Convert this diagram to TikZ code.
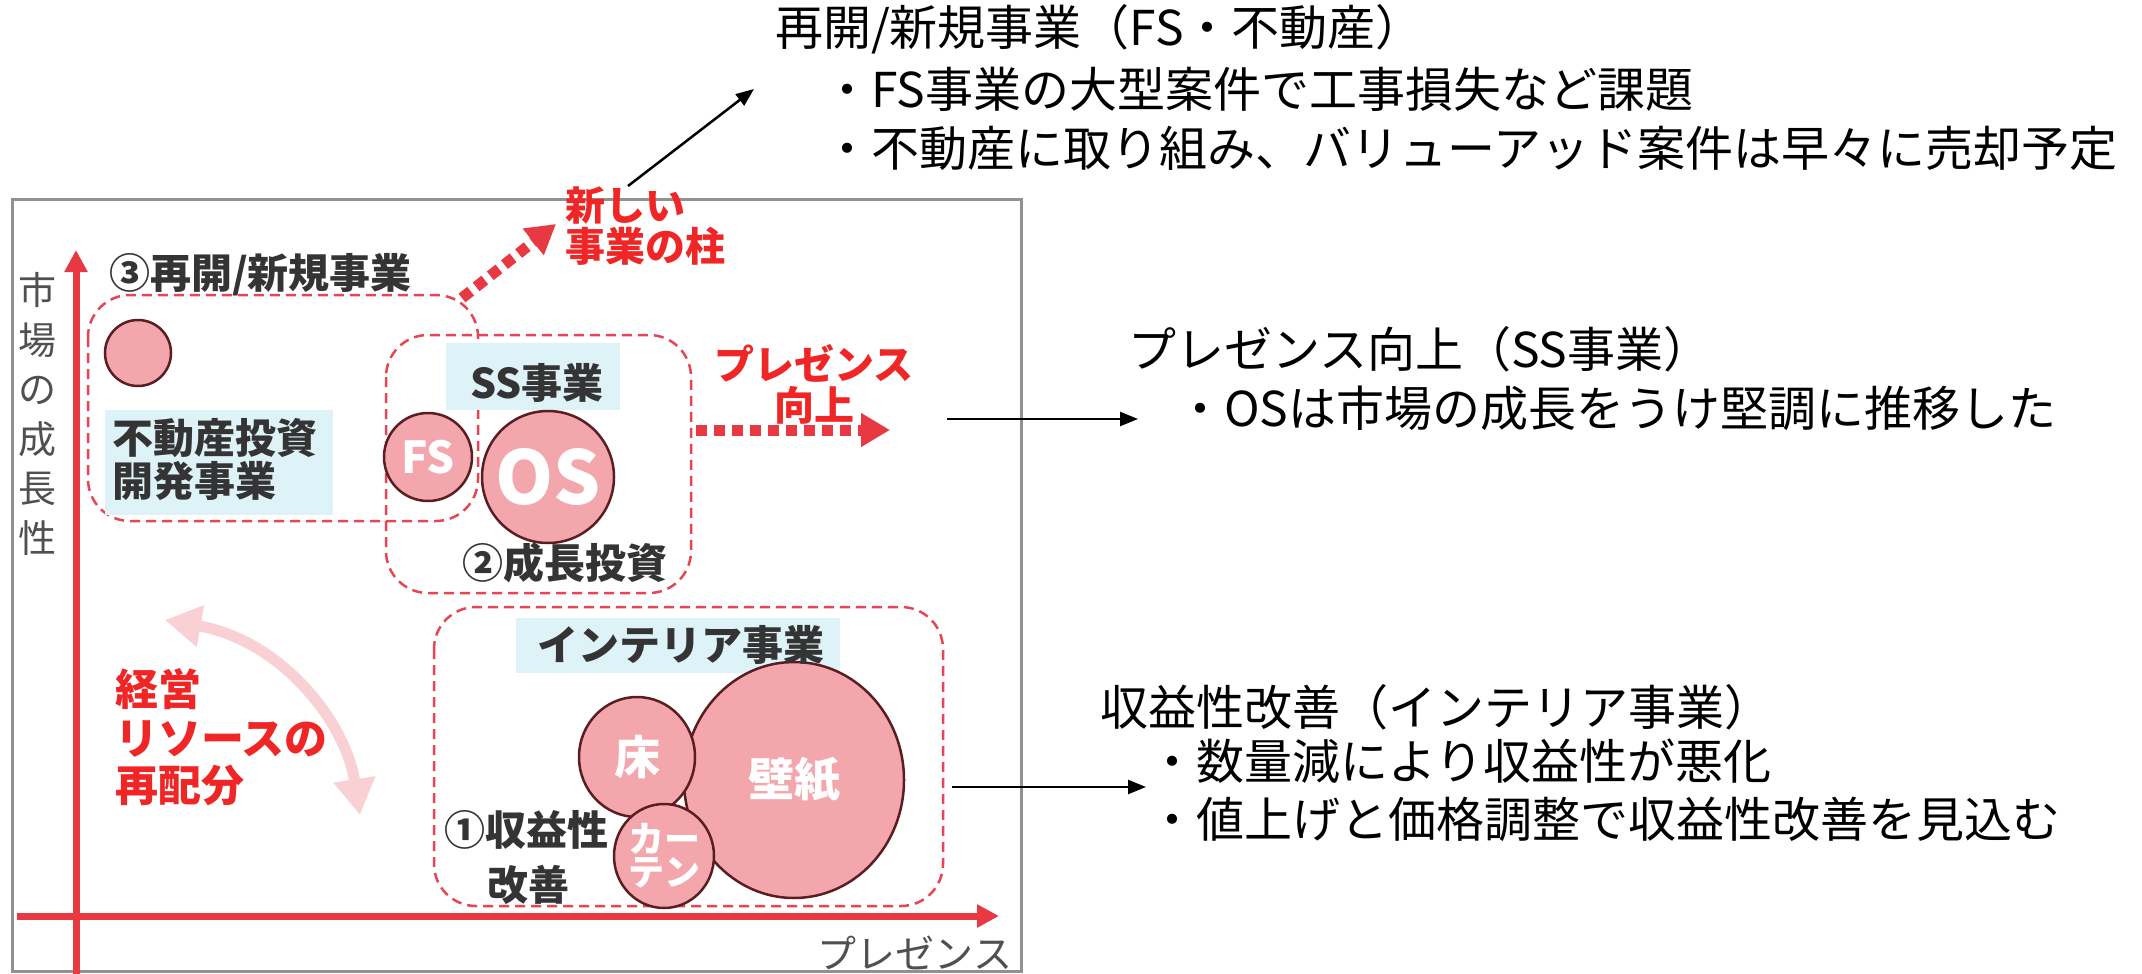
\documentclass[tikz,border=0pt]{standalone}
\usepackage{fontspec}
\newfontfamily\jp{Noto Sans CJK JP}
\usetikzlibrary{arrows.meta,shapes.geometric}
\definecolor{axisred}{RGB}{232,56,66}
\definecolor{txtred}{RGB}{240,38,38}
\definecolor{dashred}{RGB}{230,70,82}
\definecolor{bubfill}{RGB}{244,166,173}
\definecolor{bubline}{RGB}{90,30,34}
\definecolor{lblue}{RGB}{222,243,248}
\definecolor{darktxt}{RGB}{52,52,52}
\definecolor{axgray}{RGB}{80,80,80}
\definecolor{framegray}{RGB}{145,145,145}
\definecolor{softpink}{RGB}{249,208,211}
\begin{document}
\begin{tikzpicture}[x=1pt,y=-1pt,
  every node/.style={inner sep=0pt,outer sep=0pt},
  body/.style={anchor=west,font=\jp\fontsize{48}{48}\selectfont,text=black,text height=42.2pt,text depth=5.8pt},
  lbl/.style={font=\jp\bfseries\fontsize{41}{41}\selectfont,text=darktxt,text height=36pt,text depth=5pt},
  redlbl/.style={font=\jp\bfseries\fontsize{40}{40}\selectfont,text=txtred,text height=35.2pt,text depth=4.8pt},
  redbig/.style={font=\jp\bfseries\fontsize{43}{43}\selectfont,text=txtred,text height=37.8pt,text depth=5.2pt},
  axlbl/.style={font=\jp\fontsize{39}{39}\selectfont,text=axgray},
  bub/.style={ellipse,draw=bubline,line width=2.5pt,fill=bubfill},
  bubtxt/.style={text=white,font=\jp\bfseries\fontsize{46}{46}\selectfont},
  dbox/.style={draw=dashred,line width=2.5pt,dash pattern=on 10pt off 6pt,rounded corners=42pt},
  dotarrow/.style={draw=axisred,line width=11pt,dash pattern=on 11pt off 7pt,-{Triangle[length=29pt,width=32pt]}},
  axis/.style={draw=axisred,line width=7pt,-{Triangle[length=22pt,width=22pt]}},
  conn/.style={draw=black,line width=2.5pt,-{Triangle[length=18pt,width=14pt]}},
  softarrow/.style={draw=softpink,line width=11pt,{Triangle[length=36pt,width=40pt]}-{Triangle[length=36pt,width=40pt]}}
]
\useasboundingbox (0,0) rectangle (2142,974);
\fill[white] (0,0) rectangle (2142,974);

% frame
\draw[framegray,line width=3pt] (12,199) rectangle (1021,971);

% dashed group boxes
\draw[dbox] (88,295) rectangle (478,521);
\draw[dbox] (386,335) rectangle (691,593);
\draw[dbox] (434,607) rectangle (943,906);

% light blue label backgrounds
\fill[lblue] (105,410) rectangle (333,515);
\fill[lblue] (446,343) rectangle (620,410);
\fill[lblue] (516,618) rectangle (840,673);

% bubbles
\node[bub,minimum width=66pt,minimum height=66pt] (re) at (138,353) {};
\node[bub,minimum width=88pt,minimum height=88pt] (fs) at (428,457) {};
\node[bub,minimum width=132pt,minimum height=132pt] (os) at (548,477) {};
\node[bub,minimum width=220pt,minimum height=236pt] (kb) at (794,780) {};
\node[bub,minimum width=116pt,minimum height=120pt] (yuka) at (637,757) {};
\node[bub,minimum width=100pt,minimum height=104pt] (ct) at (664,856) {};
\node[bubtxt,font=\jp\bfseries\fontsize{44}{44}\selectfont] (fst) at (fs) {FS};
\node[bubtxt,font=\jp\bfseries\fontsize{74}{74}\selectfont] (ost) at (os) {OS};
\node[bubtxt] (kbt) at (kb) {壁紙};
\node[bubtxt] (yukat) at (yuka) {床};
\node[bubtxt,font=\jp\bfseries\fontsize{36}{33}\selectfont,align=center] (ctt) at (ct) {カー\\テン};

% dark labels
\node[lbl,anchor=west] (g3) at (109,273) {③再開/新規事業};
\node[lbl,anchor=west] (fd1) at (112,438) {不動産投資};
\node[lbl,anchor=west] (fd2) at (112,481) {開発事業};
\node[lbl] (ss) at (537,383) {SS事業};
\node[lbl,anchor=west] (g2) at (462,563) {②成長投資};
\node[lbl] (int) at (681,645) {インテリア事業};
\node[lbl,anchor=west] (g1a) at (444,830) {①収益性};
\node[lbl,anchor=west] (g1b) at (487,885) {改善};

% red labels
\node[redlbl,anchor=west] (nb1) at (565,205) {新しい};
\node[redlbl,anchor=west] (nb2) at (565,246) {事業の柱};
\node[redlbl] (pr1) at (814,364) {プレゼンス};
\node[redlbl] (pr2) at (814,405) {向上};
\node[redbig,anchor=west] (rs1) at (115,689) {経営};
\node[redbig,anchor=west] (rs2) at (115,738) {リソースの};
\node[redbig,anchor=west] (rs3) at (115,785) {再配分};

% dotted red arrows
\coordinate (da1s) at (462,298);
\coordinate (da1e) at (556,224);
\draw[dotarrow] (da1s) -- (da1e);
\coordinate (da2s) at (696,430);
\coordinate (da2e) at (890,430);
\draw[dotarrow] (da2s) -- (da2e);

% soft pink double arrow
\coordinate (sa1) at (165,620);
\coordinate (sa2) at (360,815);
\draw[softarrow] (sa1) .. controls (280,640) and (345,720) .. (sa2);

% axes
\coordinate (yb) at (76,974);
\coordinate (yt) at (76,250);
\draw[axis] (yb) -- (yt);
\coordinate (xl) at (17,916);
\coordinate (xr) at (999,916);
\draw[axis] (xl) -- (xr);
\node[axlbl,align=center,font=\jp\fontsize{38}{49.5}\selectfont] (ylab) at (37,414) {市\\場\\の\\成\\長\\性};
\node[axlbl] (xlab) at (915,953) {プレゼンス};

% right-hand texts
\node[body] (t1a) at (775,27) {再開/新規事業（FS・不動産）};
\node[body] (t1b) at (775,89) {　・FS事業の大型案件で工事損失など課題};
\node[body] (t1c) at (775,148) {　・不動産に取り組み、バリューアッド案件は早々に売却予定};
\node[body] (t2a) at (1128,349) {プレゼンス向上（SS事業）};
\node[body] (t2b) at (1128,408) {　・OSは市場の成長をうけ堅調に推移した};
\node[body] (t3a) at (1100,707) {収益性改善（インテリア事業）};
\node[body] (t3b) at (1100,761) {　・数量減により収益性が悪化};
\node[body] (t3c) at (1100,819) {　・値上げと価格調整で収益性改善を見込む};

% connectors
\coordinate (c1s) at (628,186);
\coordinate (c1e) at (754,89);
\draw[conn] (c1s) -- (c1e);
\coordinate (c2s) at (947,419);
\coordinate (c2e) at (1138,419);
\draw[conn] (c2s) -- (c2e);
\coordinate (c3s) at (952,787);
\coordinate (c3e) at (1146,787);
\draw[conn] (c3s) -- (c3e);
\end{tikzpicture}
\end{document}
